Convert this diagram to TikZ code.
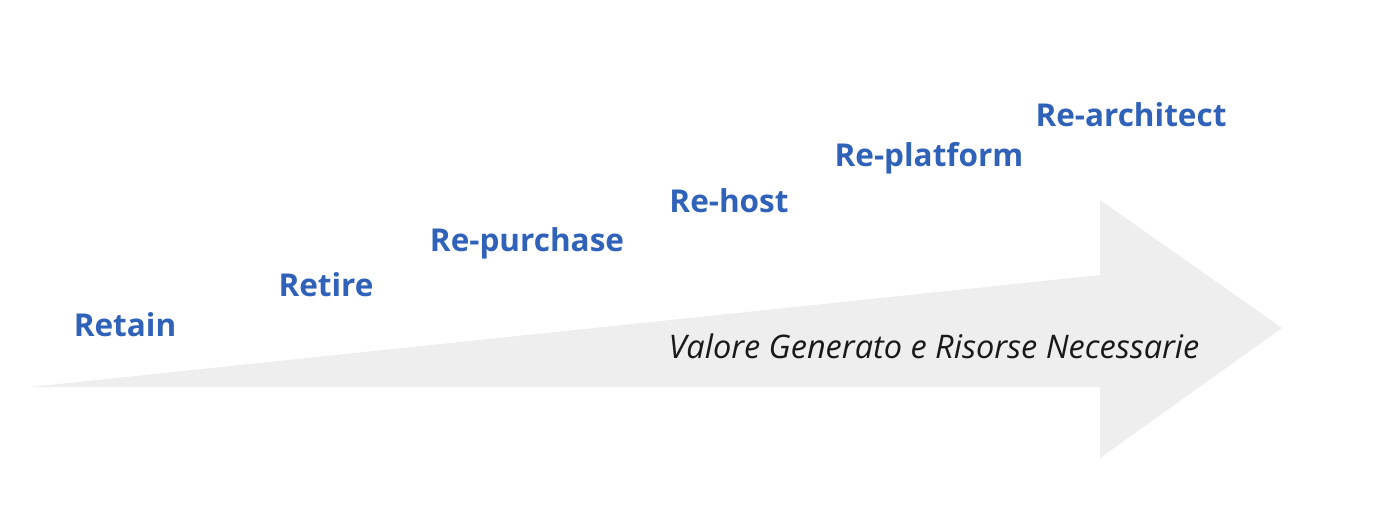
\documentclass[tikz,border=0pt]{standalone}
\usepackage{fontspec}
\setmainfont{Open Sans}
\definecolor{rblue}{HTML}{2F62B8}
\definecolor{rgrey}{HTML}{EEEEEE}
\begin{document}
\begin{tikzpicture}[x=1pt,y=1pt,
  every node/.style = {inner sep=0pt},
  rstep/.style = {text=rblue, font=\fontsize{31.5}{36}\selectfont\bfseries}]
  \useasboundingbox (0,0) rectangle (1384,504);
  \fill[rgrey] (30,117) -- (1100,229) -- (1100,304) -- (1282,176)
    -- (1100,46) -- (1100,117) -- cycle;
  \node[rstep] (retain) at (125,179) {Retain};
  \node[rstep] (retire) at (326,219) {Retire};
  \node[rstep] (repurchase) at (527,261) {Re-purchase};
  \node[rstep] (rehost) at (729,303) {Re-host};
  \node[rstep] (replatform) at (929,346) {Re-platform};
  \node[rstep] (rearchitect) at (1131,389) {Re-architect};
  \node[text=black!90, font=\fontsize{32.5}{38}\selectfont\itshape] (valore) at (934,158)
    {Valore Generato e Risorse Necessarie};
\end{tikzpicture}
\end{document}
